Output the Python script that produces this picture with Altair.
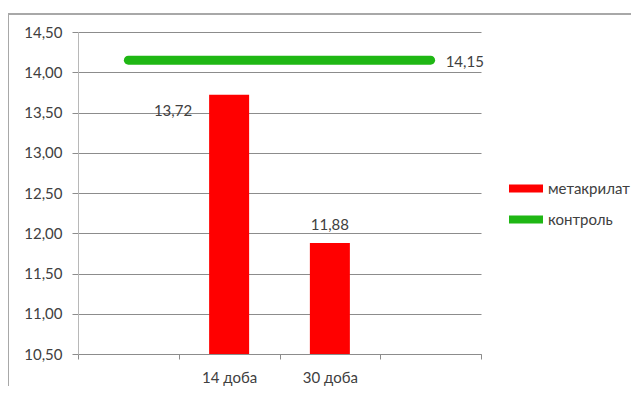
import altair as alt
import pandas as pd

categories = ["c1", "14 доба", "30 доба", "c4"]
metacrylate = [None, 13.72, 11.88, None]
control = [14.15, 14.15, 14.15, 14.15]
series_names = ["метакрилат", "контроль"]
colors = ["#ff0000", "#1fb714"]
y_ticks = [10.5, 11.0, 11.5, 12.0, 12.5, 13.0, 13.5, 14.0, 14.5]

bars_df = pd.DataFrame({"cat": categories, "value": metacrylate, "series": series_names[0]}).dropna()
line_df = pd.DataFrame({"cat": categories, "value": control, "series": series_names[1]})

FONT = "Lato"
W, H = 403, 322

x_enc = alt.X(
    "cat:N",
    sort=categories,
    scale=alt.Scale(domain=categories, paddingInner=0, paddingOuter=0),
    axis=alt.Axis(
        title=None,
        tickBand="extent",
        labelExpr="(datum.label == 'c1' || datum.label == 'c4') ? '' : datum.label",
        labelAngle=0,
        tickSize=5,
        tickColor="#8c8c8c",
        domainColor="#8c8c8c",
        labelPadding=11,
        grid=False,
    ),
)
y_scale = alt.Scale(domain=[10.5, 14.5], zero=False, nice=False)
y_axis = alt.Axis(
    title=None,
    values=y_ticks,
    labelExpr="replace(format(datum.value, '.2f'), '.', ',')",
    tickSize=6,
    tickColor="#8c8c8c",
    domainColor="#b8b8b8",
    gridColor="#8c8c8c",
    labelPadding=10,
)
color = alt.Color(
    "series:N",
    scale=alt.Scale(domain=series_names, range=colors),
    legend=alt.Legend(
        title=None,
        orient="none",
        legendX=439.5,
        legendY=148,
        symbolType="M-2,-0.47H2V0.47H-2Z",
        symbolSize=289,
        symbolStrokeWidth=0,
        symbolOpacity=1,
        labelOffset=13.5,
        rowPadding=14,
        padding=0,
        labelFontSize=15,
        labelFont=FONT,
        labelColor="#404040",
    ),
)

bars = alt.Chart(bars_df).mark_bar(size=40).encode(
    x=x_enc,
    y=alt.Y("value:Q", scale=y_scale, axis=y_axis),
    y2=alt.datum(10.5),
    color=color,
)

line = alt.Chart(line_df).mark_line(strokeWidth=9, strokeCap="round").encode(
    x=x_enc,
    y=alt.Y("value:Q", scale=y_scale),
    color=color,
)

def fmt(expr):
    return f"replace(format({expr}, '.2f'), '.', ',')"

text_style = dict(font=FONT, fontSize=15, color="#404040", baseline="middle")

lbl1 = alt.Chart(bars_df).transform_filter(alt.datum.cat == "14 доба").transform_calculate(
    lab=fmt("datum.value")
).mark_text(align="right", dx=-37, dy=16, **text_style).encode(
    x=alt.X("cat:N", sort=categories), y=alt.Y("value:Q", scale=y_scale), text="lab:N"
)
lbl2 = alt.Chart(bars_df).transform_filter(alt.datum.cat == "30 доба").transform_calculate(
    lab=fmt("datum.value")
).mark_text(align="center", dy=-18, **text_style).encode(
    x=alt.X("cat:N", sort=categories), y=alt.Y("value:Q", scale=y_scale), text="lab:N"
)
lbl3 = alt.Chart(line_df).transform_filter(alt.datum.cat == "c4").transform_calculate(
    lab=fmt("datum.value")
).mark_text(align="left", dx=15, dy=2, **text_style).encode(
    x=alt.X("cat:N", sort=categories), y=alt.Y("value:Q", scale=y_scale), text="lab:N"
)

frame_top = alt.Chart(line_df).mark_rule(color="#a8a8a8", strokeWidth=2).encode(
    x=alt.value(-70), x2=alt.value(560), y=alt.value(-18)
)
frame_left = alt.Chart(line_df).mark_rule(color="#a8a8a8", strokeWidth=2).encode(
    x=alt.value(-70), y=alt.value(-18), y2=alt.value(380)
)

chart = alt.layer(frame_top, frame_left, bars, line, lbl1, lbl2, lbl3).properties(
    width=W,
    height=H,
    autosize=alt.AutoSizeParams(type="none"),
    padding={"left": 70, "top": 24, "right": 150, "bottom": 32},
    background="white",
).configure_view(stroke=None).configure_axis(
    labelFont=FONT, labelFontSize=15, labelColor="#404040"
)

chart.save("out.html", embed_options={"renderer": "svg", "actions": False})
